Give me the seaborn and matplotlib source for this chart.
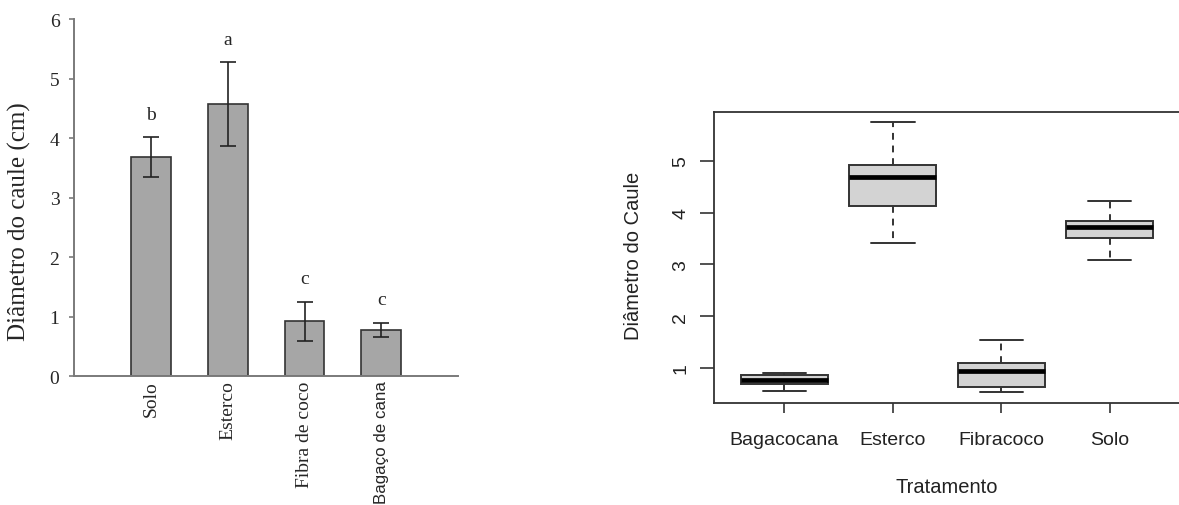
import numpy as np
import pandas as pd
import seaborn as sns
import matplotlib.pyplot as plt

# left panel: mean stem diameter per substrate, with error bars and letters
bar_labels = ['Solo', 'Esterco', 'Fibra de coco', 'Bagaço de cana']
bar_means = [3.68, 4.57, 0.92, 0.77]
bar_errs = [0.33, 0.70, 0.33, 0.115]
bar_letters = ['b', 'a', 'c', 'c']

# right panel: five-number summaries
box_order = ['Bagacocana', 'Esterco', 'Fibracoco', 'Solo']
bagacocana = [0.56, 0.68, 0.77, 0.87, 0.90]
esterco = [3.42, 4.12, 4.68, 4.92, 5.74]
fibracoco = [0.53, 0.63, 0.93, 1.09, 1.53]
solo = [3.09, 3.50, 3.72, 3.84, 4.22]
box_ticks = [1, 2, 3, 4, 5]

sns.set_style('white')
plt.rcParams['font.family'] = ['Liberation Serif', 'DejaVu Serif']

SERIF = 'Liberation Serif'
SANS = 'Liberation Sans'

fig = plt.figure(figsize=(11.79, 5.06), dpi=100)

# ---------------- left: bar chart ----------------
ax1 = fig.add_axes([0.0628, 0.2549, 0.3258, 0.7055])
sns.barplot(x=bar_labels, y=bar_means, order=bar_labels, color='#A6A6A6',
            saturation=1, width=0.52, edgecolor='#333333', linewidth=1.2,
            errorbar=None, ax=ax1)
xpos = np.arange(len(bar_labels))
ax1.errorbar(xpos, bar_means, yerr=bar_errs, fmt='none', ecolor='#222222',
             elinewidth=1.2, capsize=5.5, capthick=1.2)
for x, m, e, lab in zip(xpos, bar_means, bar_errs, bar_letters):
    ax1.text(x, m + e + 0.25, lab, ha='center', va='bottom',
             fontsize=14, family=SERIF)

ax1.set_xlim(-1, 4)
ax1.set_ylim(0, 6)
ax1.set_yticks(range(7))
sns.despine(ax=ax1)
for side in ['left', 'bottom']:
    ax1.spines[side].set_color('#7a7a7a')
    ax1.spines[side].set_linewidth(1.4)
ax1.tick_params(axis='y', direction='out', length=3.5, width=1.2,
                color='#7a7a7a', pad=7, labelsize=14, left=True)
ax1.tick_params(axis='x', length=0, pad=3, labelsize=14)
for t in ax1.get_xticklabels():
    t.set_rotation(90)
    t.set_va('top')
    t.set_family(SERIF)
# last label is set in a sans face in the original
last = ax1.get_xticklabels()[-1]
last.set_family(SANS)
last.set_fontsize(12.2)
ax1.set_xlabel('')
ax1.set_ylabel('Diâmetro do caule (cm)', fontsize=18, family=SERIF)
ax1.yaxis.set_label_coords(-0.112, 0.434)

# ---------------- right: boxplot ----------------
df = pd.DataFrame({
    'Tratamento': np.repeat(box_order, 5),
    'Diametro': bagacocana + esterco + fibracoco + solo,
})

ax2 = fig.add_axes([0.6056, 0.2016, 0.3953, 0.5757])
sns.boxplot(data=df, x='Tratamento', y='Diametro', order=box_order,
            color='#D3D3D3', saturation=1, width=0.8, linecolor='#333333',
            linewidth=1.4, whis=1.5, fliersize=0,
            whiskerprops={'linestyle': (0, (3.5, 3))},
            medianprops={'color': 'black', 'linewidth': 3.4},
            ax=ax2)

allv = df['Diametro']
pad = 0.04 * (allv.max() - allv.min())
ax2.set_ylim(allv.min() - pad, allv.max() + pad)
ax2.set_xlim(-0.65, 3.65)
ax2.set_yticks(box_ticks)
for side in ['left', 'bottom', 'top', 'right']:
    ax2.spines[side].set_visible(True)
    ax2.spines[side].set_color('#333333')
    ax2.spines[side].set_linewidth(1.3)
ax2.tick_params(axis='y', direction='out', length=10, width=1.2,
                color='#333333', pad=8, labelsize=14, left=True)
ax2.tick_params(axis='x', direction='out', length=7.5, width=1.2,
                color='#333333', pad=13, labelsize=14, bottom=True)
for t in ax2.get_yticklabels():
    t.set_rotation(90)
    t.set_va('center')
    t.set_family(SANS)
    t.set_color('#222222')
for t in ax2.get_xticklabels():
    t.set_family(SANS)
    t.set_color('#222222')
ax2.set_xlabel('Tratamento', fontsize=14.5, family=SANS, color='#222222')
ax2.set_ylabel('Diâmetro do Caule', fontsize=14.5, family=SANS, color='#222222')
ax2.xaxis.set_label_coords(0.5, -0.254)
ax2.yaxis.set_label_coords(-0.152, 0.509)

fig.savefig('out.png', dpi=100)
